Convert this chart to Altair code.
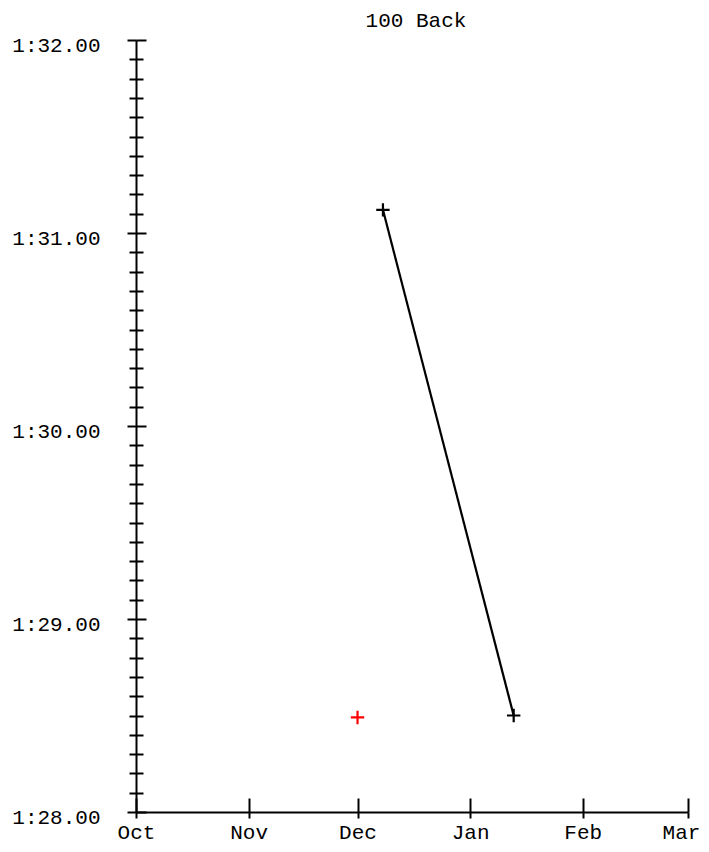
import altair as alt
import pandas as pd

# Data
swim_dates = ["2023-12-08", "2024-01-13"]
swim_times = [91.12, 88.50]          # seconds (1:31.12, 1:28.50)
goal_dates = ["2023-12-01"]
goal_times = [88.49]                 # seconds (1:28.49)

x_domain = ["2023-10-01", "2024-03-01"]
x_ticks = ["2023-10-01", "2023-11-01", "2023-12-01", "2024-01-01", "2024-02-01", "2024-03-01"]
y_domain = [88, 92]
y_major = [88, 89, 90, 91, 92]
y_minor = [round(88 + i / 10, 1) for i in range(1, 40) if i % 10 != 0]

swims = pd.DataFrame({"date": swim_dates, "time": swim_times})
goal = pd.DataFrame({"date": goal_dates, "time": goal_times})

FONT = "Liberation Mono"
FS = 21
W, H = 552, 772
PLUS = "M-1,0L1,0M0,-1L0,1"

xscale = alt.Scale(type="utc", domain=x_domain, nice=False)
yscale = alt.Scale(domain=y_domain, nice=False, zero=False)

y_label_expr = "floor(datum.value/60) + ':' + format(datum.value % 60, '05.2f')"
x_label_expr = "utcFormat(datum.value, '%b')"

common_axis = dict(domainColor="black", tickColor="black", domainWidth=2, tickWidth=2,
                   grid=False, title=None, labelFont=FONT, labelFontSize=FS,
                   labelColor="black", labelOverlap=False, labelFlush=False)

# Layer 1: line, main bottom x axis and left y axis with labels
line = alt.Chart(swims).mark_line(color="black", strokeWidth=2.2).encode(
    x=alt.X("date:T", scale=xscale,
            axis=alt.Axis(orient="bottom", values=x_ticks, labelExpr=x_label_expr,
                          tickSize=6, labelPadding=20, labelBaseline="alphabetic",
                          labelOffset={"condition": {"test": "utcmonth(datum.value) == 2",
                                                     "value": -7}, "value": 0},
                          **common_axis)),
    y=alt.Y("time:Q", scale=yscale,
            axis=alt.Axis(orient="left", values=y_major, labelExpr=y_label_expr, tickSize=9,
                          labelPadding=27, labelBaseline="top", labelOffset=-6, **common_axis)),
)

# Layer 2: black pluses, inward ticks (top/right axes pulled onto the bottom/left edges)
pts = alt.Chart(swims).mark_point(shape=PLUS, size=180, color="black", strokeWidth=2.2,
                                  filled=False, opacity=1).encode(
    x=alt.X("date:T", scale=xscale,
            axis=alt.Axis(orient="top", offset=-H, values=x_ticks, labels=False, domain=False,
                          tickSize=14, **common_axis)),
    y=alt.Y("time:Q", scale=yscale,
            axis=alt.Axis(orient="right", offset=-W, values=y_major, labels=False, domain=False,
                          tickSize=10, **common_axis)),
)

# Layer 3: red plus, left minor ticks
goal_pt = alt.Chart(goal).mark_point(shape=PLUS, size=180, color="red", strokeWidth=2.2,
                                     filled=False, opacity=1).encode(
    x=alt.X("date:T", scale=xscale, axis=None),
    y=alt.Y("time:Q", scale=yscale,
            axis=alt.Axis(orient="left", values=y_minor, labels=False, domain=False,
                          tickSize=7, **common_axis)),
)

# Layer 4: invisible copy, right-side minor ticks
ghost = alt.Chart(swims).mark_point(opacity=0).encode(
    x=alt.X("date:T", scale=xscale, axis=None),
    y=alt.Y("time:Q", scale=yscale,
            axis=alt.Axis(orient="right", offset=-W, values=y_minor, labels=False, domain=False,
                          tickSize=7, **common_axis)),
)

chart = alt.layer(line, pts, goal_pt, ghost).resolve_axis(
    x="independent", y="independent"
).properties(
    width=W, height=H,
    title=alt.Title("100 Back", font=FONT, fontSize=FS, fontWeight="normal", color="black",
                    anchor="middle", offset=3, dx=4),
    autosize=alt.AutoSizeParams(type="none"),
    padding={"left": 128, "top": 32, "right": 13, "bottom": 31},
).configure_view(stroke=None).configure_axis(tickCap="butt")

chart.save("out.html", embed_options={"renderer": "svg", "actions": False})
